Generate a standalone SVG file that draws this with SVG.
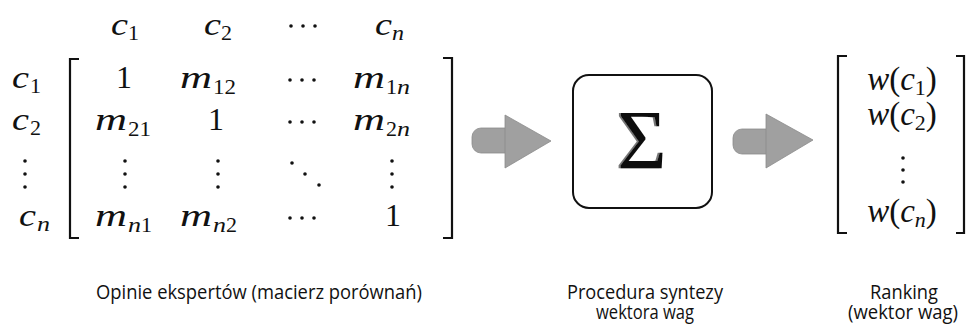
<svg xmlns="http://www.w3.org/2000/svg" width="967" height="327" viewBox="0 0 967 327">
<defs>
<filter id="bevel" x="-20%" y="-20%" width="140%" height="140%">
  <feDropShadow dx="-2" dy="0" stdDeviation="0.3" flood-color="#777" flood-opacity="1"/>
</filter>
</defs>
<style>
.mi{font-family:"Liberation Serif","Times New Roman",serif;font-style:italic;font-size:32px;fill:#111}
.mr{font-family:"Liberation Serif","Times New Roman",serif;font-size:32px;fill:#111}
.sub{font-family:"Liberation Serif","Times New Roman",serif;font-size:22px;fill:#111;font-style:normal}
.subi{font-family:"Liberation Serif","Times New Roman",serif;font-style:italic;font-size:22px;fill:#111}
.br{fill:none;stroke:#111;stroke-width:2.2}
.lbl{font-family:"Open Sans","DejaVu Sans",sans-serif;font-size:20px;fill:#111;text-anchor:middle}
.arr{fill:#a0a0a0;stroke:#8c8c8c;stroke-width:0.8}
.dot{fill:#111}
</style>
<rect width="967" height="327" fill="#fff"/>

<g id="matrix">
  <!-- header -->
  <text class="mi" x="111" y="35" textLength="17" lengthAdjust="spacingAndGlyphs">c</text><text class="sub" x="128" y="40">1</text>
  <text class="mi" x="204" y="35" textLength="17" lengthAdjust="spacingAndGlyphs">c</text><text class="sub" x="221" y="40">2</text>
  <circle class="dot" cx="291" cy="26" r="1.8"/><circle class="dot" cx="303" cy="26" r="1.8"/><circle class="dot" cx="315" cy="26" r="1.8"/>
  <text class="mi" x="375" y="35" textLength="17" lengthAdjust="spacingAndGlyphs">c</text><text class="subi" x="392" y="40" textLength="12" lengthAdjust="spacingAndGlyphs">n</text>
  <!-- row labels -->
  <text class="mi" x="12" y="88" textLength="17" lengthAdjust="spacingAndGlyphs">c</text><text class="sub" x="30" y="93">1</text>
  <text class="mi" x="12" y="130" textLength="17" lengthAdjust="spacingAndGlyphs">c</text><text class="sub" x="30" y="135">2</text>
  <circle class="dot" cx="25" cy="161" r="1.8"/><circle class="dot" cx="25" cy="174" r="1.8"/><circle class="dot" cx="25" cy="187" r="1.8"/>
  <text class="mi" x="19" y="226" textLength="17" lengthAdjust="spacingAndGlyphs">c</text><text class="subi" x="37" y="231" textLength="13" lengthAdjust="spacingAndGlyphs">n</text>
  <!-- brackets -->
  <path class="br" d="M79,59 H70 V238 H79"/>
  <path class="br" d="M443,58 H452 V238 H443"/>
  <!-- row 1 -->
  <text class="mr" x="124" y="88" text-anchor="middle">1</text>
  <text class="mi" x="180" y="88" textLength="32" lengthAdjust="spacingAndGlyphs">m</text><text class="sub" x="213" y="94" textLength="23" lengthAdjust="spacingAndGlyphs">12</text>
  <circle class="dot" cx="290" cy="80" r="1.8"/><circle class="dot" cx="302" cy="80" r="1.8"/><circle class="dot" cx="314" cy="80" r="1.8"/>
  <text class="mi" x="353" y="88" textLength="32" lengthAdjust="spacingAndGlyphs">m</text><text class="sub" x="386" y="94">1</text><text class="subi" x="397" y="94" textLength="13" lengthAdjust="spacingAndGlyphs">n</text>
  <!-- row 2 -->
  <text class="mi" x="95" y="130" textLength="32" lengthAdjust="spacingAndGlyphs">m</text><text class="sub" x="128" y="136" textLength="23" lengthAdjust="spacingAndGlyphs">21</text>
  <text class="mr" x="216" y="130" text-anchor="middle">1</text>
  <circle class="dot" cx="290" cy="122" r="1.8"/><circle class="dot" cx="302" cy="122" r="1.8"/><circle class="dot" cx="314" cy="122" r="1.8"/>
  <text class="mi" x="353" y="130" textLength="32" lengthAdjust="spacingAndGlyphs">m</text><text class="sub" x="386" y="136">2</text><text class="subi" x="397" y="136" textLength="13" lengthAdjust="spacingAndGlyphs">n</text>
  <!-- row 3 -->
  <circle class="dot" cx="125" cy="161" r="1.8"/><circle class="dot" cx="125" cy="174" r="1.8"/><circle class="dot" cx="125" cy="187" r="1.8"/>
  <circle class="dot" cx="218" cy="161" r="1.8"/><circle class="dot" cx="218" cy="174" r="1.8"/><circle class="dot" cx="218" cy="187" r="1.8"/>
  <circle class="dot" cx="292" cy="163" r="1.8"/><circle class="dot" cx="305" cy="174" r="1.8"/><circle class="dot" cx="319" cy="185" r="1.8"/>
  <circle class="dot" cx="392" cy="161" r="1.8"/><circle class="dot" cx="392" cy="174" r="1.8"/><circle class="dot" cx="392" cy="187" r="1.8"/>
  <!-- row 4 -->
  <text class="mi" x="95" y="226" textLength="32" lengthAdjust="spacingAndGlyphs">m</text><text class="subi" x="128" y="232" textLength="13" lengthAdjust="spacingAndGlyphs">n</text><text class="sub" x="141" y="232">1</text>
  <text class="mi" x="180" y="226" textLength="32" lengthAdjust="spacingAndGlyphs">m</text><text class="subi" x="213" y="232" textLength="13" lengthAdjust="spacingAndGlyphs">n</text><text class="sub" x="226" y="232">2</text>
  <circle class="dot" cx="290" cy="218" r="1.8"/><circle class="dot" cx="302" cy="218" r="1.8"/><circle class="dot" cx="314" cy="218" r="1.8"/>
  <text class="mr" x="393" y="226" text-anchor="middle">1</text>
</g>

<g id="synthesis">
  <rect x="573" y="75" width="139" height="133" rx="16" ry="16" fill="#fff" stroke="#111" stroke-width="2"/>
  <text class="mr" x="642" y="169" text-anchor="middle" style="font-size:85px" filter="url(#bevel)">Σ</text>
</g>

<g id="vector">
  <path class="br" d="M847,56 H838 V233 H847"/>
  <path class="br" d="M956,56 H964 V233 H956"/>
  <text class="mr" x="902" y="90" text-anchor="middle" style="font-size:33px"><tspan class="mi" style="font-size:33px">w</tspan>(<tspan class="mi" style="font-size:33px">c</tspan><tspan class="sub" dy="5">1</tspan><tspan dy="-5">)</tspan></text>
  <text class="mr" x="902" y="125" text-anchor="middle" style="font-size:33px"><tspan class="mi" style="font-size:33px">w</tspan>(<tspan class="mi" style="font-size:33px">c</tspan><tspan class="sub" dy="5">2</tspan><tspan dy="-5">)</tspan></text>
  <circle class="dot" cx="903" cy="158" r="1.8"/><circle class="dot" cx="903" cy="170" r="1.8"/><circle class="dot" cx="903" cy="182" r="1.8"/>
  <text class="mr" x="902" y="222" text-anchor="middle" style="font-size:33px"><tspan class="mi" style="font-size:33px">w</tspan>(<tspan class="mi" style="font-size:33px">c</tspan><tspan class="subi" dy="5">n</tspan><tspan dy="-5">)</tspan></text>
</g>

<g id="connectors">
  <path class="arr" d="M508,128 H481 A9,9 0 0 0 472,137 V144 A9,9 0 0 0 481,153 H508 Z"/>
  <path class="arr" d="M505,115 L551,141 L505,168 Z"/>
  <path class="arr" d="M769,129 H742 A9,9 0 0 0 733,138 V145 A9,9 0 0 0 742,154 H769 Z"/>
  <path class="arr" d="M766,114 L813,140 L766,168 Z"/>
</g>

<g id="labels">
  <text class="lbl" x="259" y="299" textLength="326" lengthAdjust="spacingAndGlyphs">Opinie ekspertów (macierz porównań)</text>
  <text class="lbl"><tspan x="645" y="299" textLength="156" lengthAdjust="spacingAndGlyphs">Procedura syntezy</tspan><tspan x="645" y="319" textLength="98" lengthAdjust="spacingAndGlyphs">wektora wag</tspan></text>
  <text class="lbl"><tspan x="904" y="299" textLength="68" lengthAdjust="spacingAndGlyphs">Ranking</tspan><tspan x="903" y="319" textLength="110" lengthAdjust="spacingAndGlyphs">(wektor wag)</tspan></text>
</g>
</svg>
